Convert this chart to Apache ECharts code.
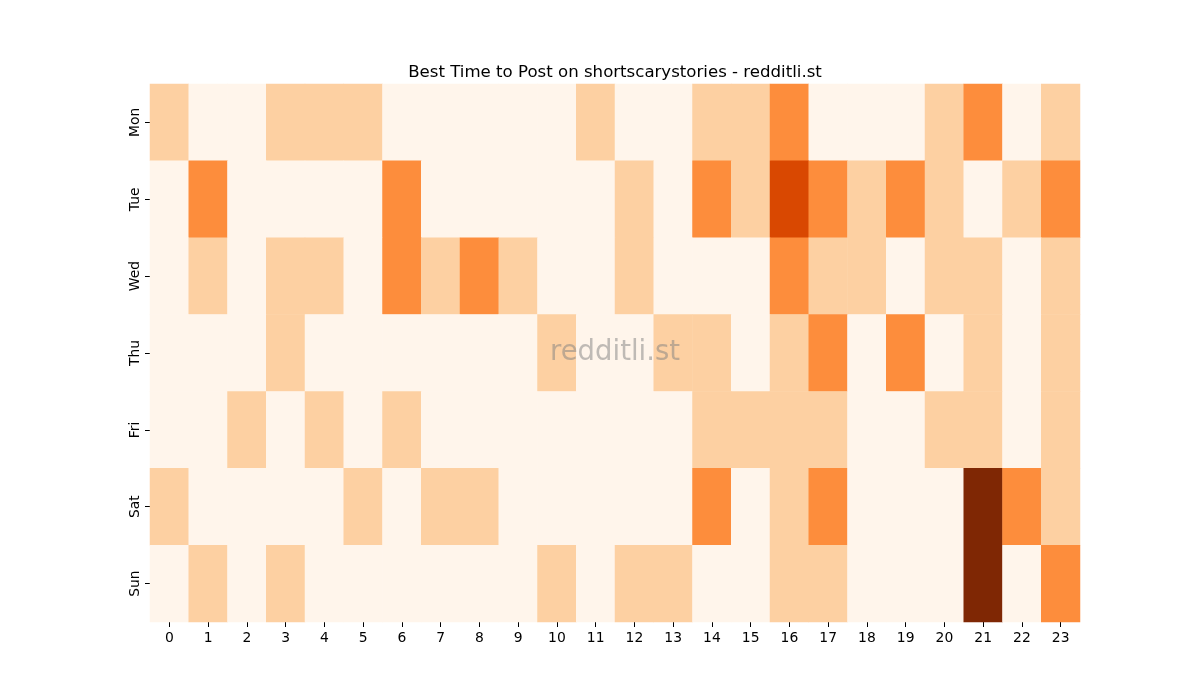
<!DOCTYPE html>
<html>
<head>
<meta charset="utf-8">
<script src="https://cdn.jsdelivr.net/npm/echarts@6/dist/echarts.min.js"></script>
<style>
html,body{margin:0;padding:0;background:#fff;}
#main{width:1200px;height:700px;}
</style>
</head>
<body>
<div id="main"></div>
<script>
const hours = ['0','1','2','3','4','5','6','7','8','9','10','11','12','13','14','15','16','17','18','19','20','21','22','23'];
const days = ['Mon','Tue','Wed','Thu','Fri','Sat','Sun'];
const mon = [1,0,0,1,1,1,0,0,0,0,0,1,0,0,1,1,2,0,0,0,1,2,0,1];
const tue = [0,2,0,0,0,0,2,0,0,0,0,0,1,0,2,1,3,2,1,2,1,0,1,2];
const wed = [0,1,0,1,1,0,2,1,2,1,0,0,1,0,0,0,2,1,1,0,1,1,0,1];
const thu = [0,0,0,1,0,0,0,0,0,0,1,0,0,1,1,0,1,2,0,2,0,1,0,1];
const fri = [0,0,1,0,1,0,1,0,0,0,0,0,0,0,1,1,1,1,0,0,1,1,0,1];
const sat = [1,0,0,0,0,1,0,1,1,0,0,0,0,0,2,0,1,2,0,0,0,4,2,1];
const sun = [0,1,0,1,0,0,0,0,0,0,1,0,1,1,0,0,1,1,0,0,0,4,0,2];
const rows = [mon, tue, wed, thu, fri, sat, sun];
const levelColors = ['#fff5eb', '#fdd0a2', '#fd8d3c', '#d94801', '#7f2704'];

const data = [];
rows.forEach((r, y) => r.forEach((v, x) => data.push([x, y, v])));

const chart = echarts.init(document.getElementById('main'), null, {renderer: 'canvas'});
const font = 'DejaVu Sans';
chart.setOption({
  animation: false,
  backgroundColor: '#ffffff',
  title: {
    text: 'Best Time to Post on shortscarystories - redditli.st',
    left: 610, top: 59, textAlign: 'center',
    textStyle: {fontFamily: font, fontSize: 16.6, fontWeight: 'normal', color: '#000'}
  },
  grid: {left: 150, right: 120, top: 84, bottom: 78},
  xAxis: {
    type: 'category', data: hours,
    axisLine: {show: false},
    axisTick: {show: true, alignWithLabel: true, length: 5, lineStyle: {color: '#000'}},
    axisLabel: {fontFamily: font, fontSize: 13.9, color: '#000', margin: 9},
    splitLine: {show: false}
  },
  yAxis: {
    type: 'category', data: days, inverse: true,
    axisLine: {show: false},
    axisTick: {show: true, alignWithLabel: true, length: 5, lineStyle: {color: '#000'}},
    axisLabel: {fontFamily: font, fontSize: 13.9, color: '#000', rotate: 90, margin: 8},
    splitLine: {show: false}
  },
  visualMap: {
    show: false, type: 'piecewise', dimension: 2,
    pieces: levelColors.map((c, i) => ({value: i, color: c}))
  },
  series: [{
    type: 'heatmap', data: data,
    itemStyle: {borderWidth: 0},
    emphasis: {disabled: true}
  }],
  graphic: [{
    type: 'text', x: 615, y: 353, z: 100,
    style: {text: 'redditli.st', font: '27.5px "DejaVu Sans"', fill: 'rgba(128,128,128,0.5)', align: 'center', verticalAlign: 'middle'}
  }]
});
</script>
</body>
</html>
